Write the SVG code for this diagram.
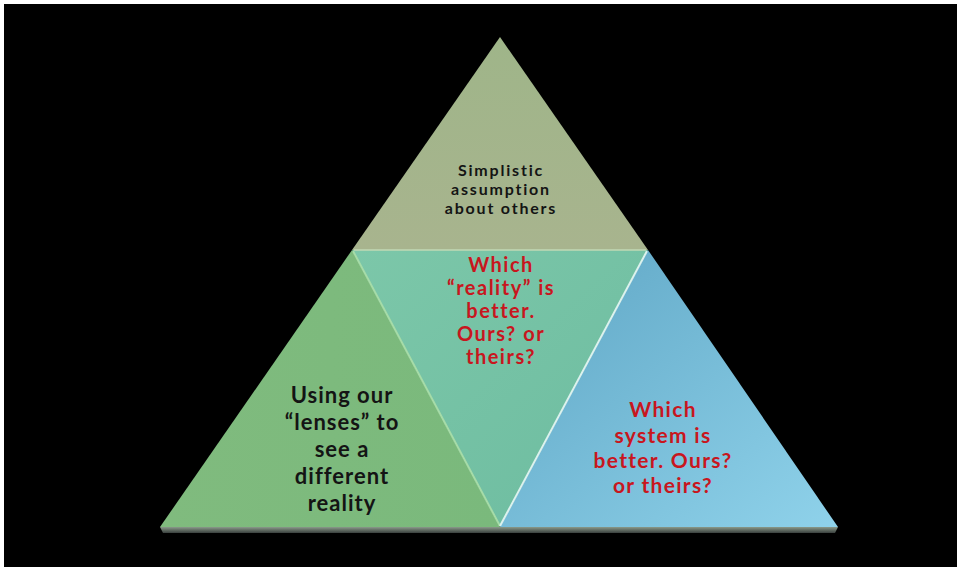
<svg xmlns="http://www.w3.org/2000/svg" width="957" height="567" viewBox="0 0 957 567">
<defs>
<linearGradient id="gTop" x1="0" y1="0" x2="0" y2="1"><stop offset="0" stop-color="#9fb589"/><stop offset="1" stop-color="#a8b48e"/></linearGradient>
<linearGradient id="gMid" x1="0" y1="0" x2="1" y2="1"><stop offset="0" stop-color="#7cc7a9"/><stop offset="1" stop-color="#6dbca0"/></linearGradient>
<linearGradient id="gLeft" x1="0" y1="0" x2="1" y2="0"><stop offset="0" stop-color="#80bb7e"/><stop offset="1" stop-color="#7ab97c"/></linearGradient>
<linearGradient id="gRight" x1="0" y1="0" x2="1" y2="1"><stop offset="0" stop-color="#5ea5c4"/><stop offset="1" stop-color="#8fd2ea"/></linearGradient>
<linearGradient id="gBase" x1="0" y1="0" x2="0" y2="1"><stop offset="0" stop-color="#8a9a8a"/><stop offset="1" stop-color="#3a403e"/></linearGradient>
<style>
.t{font-family:Lato,"Open Sans","Liberation Sans",sans-serif;font-weight:bold;text-anchor:middle}
.dark{fill:#141414}
.red{fill:#c8161e}
</style>
</defs>
<rect x="0" y="0" width="957" height="567" fill="#000"/>
<rect x="0" y="0" width="957" height="4" fill="#fff"/>
<rect x="0" y="0" width="4" height="567" fill="#fff"/>
<g id="base">
<polygon points="160,527 838,527 835,533 163,533" fill="url(#gBase)"/>
</g>
<g id="top">
<polygon points="500,37 648,250 352,250" fill="url(#gTop)"/>
<text class="t dark" font-size="16" letter-spacing="1.8"><tspan x="501" y="176">Simplistic</tspan><tspan x="501" y="195">assumption</tspan><tspan x="501" y="214">about others</tspan></text>
</g>
<g id="middle">
<polygon points="352,250 648,250 500,527" fill="url(#gMid)"/>
<text class="t red" font-size="20" letter-spacing="1.5"><tspan x="501" y="272">Which</tspan><tspan x="501" y="295">“reality” is</tspan><tspan x="501" y="318">better.</tspan><tspan x="501" y="341">Ours? or</tspan><tspan x="501" y="364">theirs?</tspan></text>
</g>
<g id="left">
<polygon points="352,250 500,527 160,527" fill="url(#gLeft)"/>
<text class="t dark" font-size="22" letter-spacing="1"><tspan x="342" y="403">Using our</tspan><tspan x="342" y="430">“lenses” to</tspan><tspan x="342" y="457">see a</tspan><tspan x="342" y="484">different</tspan><tspan x="342" y="511">reality</tspan></text>
</g>
<g id="right">
<polygon points="648,250 838,527 500,527" fill="url(#gRight)"/>
<text class="t red" font-size="21" letter-spacing="1.3"><tspan x="663" y="417">Which</tspan><tspan x="663" y="443">system is</tspan><tspan x="663" y="468">better. Ours?</tspan><tspan x="663" y="493">or theirs?</tspan></text>
</g>
<g id="connectors" fill="none" stroke-width="2">
<line x1="354" y1="250" x2="646" y2="250" stroke="#c2d8b4" stroke-width="1.5"/>
<line x1="353" y1="251" x2="500" y2="526" stroke="#a6dca8"/>
<line x1="647" y1="251" x2="500" y2="526" stroke="#dcf2ee"/>
</g>
</svg>
